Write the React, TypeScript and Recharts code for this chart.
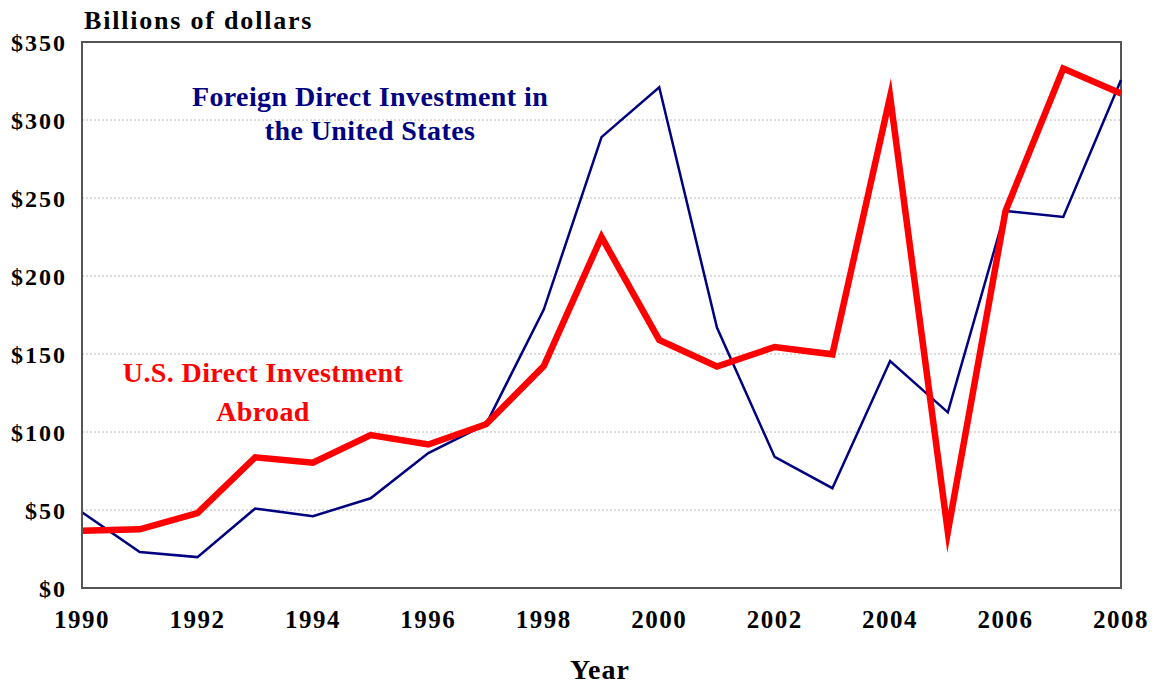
import React from 'react';
import { LineChart, Line, XAxis, YAxis, CartesianGrid, ReferenceArea } from 'recharts';

const years = [1990, 1991, 1992, 1993, 1994, 1995, 1996, 1997, 1998, 1999, 2000, 2001, 2002, 2003, 2004, 2005, 2006, 2007, 2008];
const fdiInUS = [48.5, 23, 19.8, 51, 46, 57.5, 86.5, 105, 178.5, 289, 321, 167, 84, 64, 145.5, 112.6, 241.7, 237.8, 325.6];
const usAbroad = [36.7, 37.6, 48, 83.8, 80.3, 98, 92, 105, 142.3, 225, 159, 142, 154.5, 149.8, 315, 36, 241.7, 333, 317];
const xTicks = [1990, 1992, 1994, 1996, 1998, 2000, 2002, 2004, 2006, 2008];
const yTicks = [0, 50, 100, 150, 200, 250, 300, 350];

const data = years.map((y, i) => ({ year: y, fdi: fdiInUS[i], abroad: usAbroad[i] }));

const FONT = '"Liberation Serif", "Times New Roman", serif';

export default function App() {
  return (
    <div style={{ position: 'absolute', left: 0, top: 0, width: 1159, height: 684, background: '#fff', fontFamily: FONT }}>
      <LineChart width={1159} height={684} data={data} margin={{ top: 42, right: 38, bottom: 56, left: 8 }}>
        <CartesianGrid horizontal vertical={false} stroke="#b8b8b8" strokeDasharray="2 2" />
        <XAxis
          dataKey="year"
          type="number"
          domain={[1990, 2008]}
          ticks={xTicks}
          height={40}
          tickLine={false}
          tickSize={0}
          tickMargin={22}
          axisLine={{ stroke: '#555', strokeWidth: 2 }}
          tick={{ fill: '#000', fontSize: 25, fontWeight: 'bold', fontFamily: FONT, letterSpacing: 1.5 }}
          interval={0}
        />
        <YAxis
          type="number"
          domain={[0, 350]}
          ticks={yTicks}
          width={74}
          tickLine={false}
          tickSize={0}
          tickMargin={15}
          axisLine={{ stroke: '#555', strokeWidth: 2 }}
          tick={{ fill: '#000', fontSize: 24, fontWeight: 'bold', fontFamily: FONT, letterSpacing: 2 }}
          tickFormatter={(v: number) => '$' + v}
          interval={0}
        />
        <ReferenceArea x1={1990} x2={2008} y1={0} y2={350} fill="none" stroke="#555" strokeWidth={2} ifOverflow="visible" />
        <Line type="linear" dataKey="fdi" stroke="#000080" strokeWidth={2.5} dot={false} isAnimationActive={false} />
        <Line type="linear" dataKey="abroad" stroke="#ff0000" strokeWidth={6.5} dot={false} strokeLinejoin="miter" strokeMiterlimit={12} isAnimationActive={false} />
      </LineChart>
      <svg width={1159} height={684} style={{ position: 'absolute', left: 0, top: 0, pointerEvents: 'none' }}>
        <g fontFamily={FONT} fontWeight="bold">
          <text x={84} y={29} fontSize={26} letterSpacing={1.8} fill="#000">Billions of dollars</text>
          <text x={600} y={679} fontSize={28} letterSpacing={1} textAnchor="middle" fill="#000">Year</text>
          <text x={370} y={105.5} fontSize={28} letterSpacing={0.4} textAnchor="middle" fill="#000080">Foreign Direct Investment in</text>
          <text x={370} y={140} fontSize={28} letterSpacing={0.4} textAnchor="middle" fill="#000080">the United States</text>
          <text x={263} y={381.5} fontSize={28} letterSpacing={0.4} textAnchor="middle" fill="#ff0000">U.S. Direct Investment</text>
          <text x={263} y={420.5} fontSize={28} letterSpacing={0.4} textAnchor="middle" fill="#ff0000">Abroad</text>
        </g>
      </svg>
    </div>
  );
}
